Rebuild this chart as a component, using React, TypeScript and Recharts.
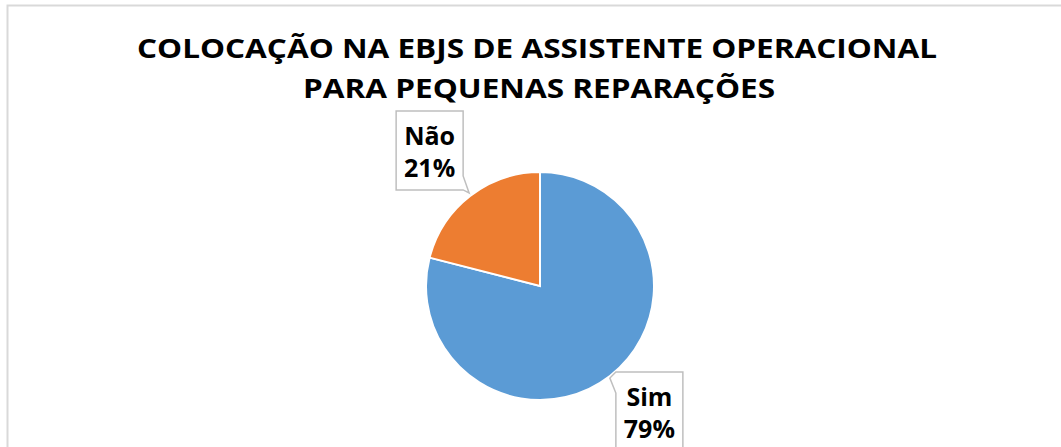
import React from 'react';
import { PieChart, Pie, Cell } from 'recharts';

const categories = ['Sim', 'Não'];
const values = [79, 21];
const colors = ['#5B9BD5', '#ED7D31'];
const titleLines = ['COLOCAÇÃO NA EBJS DE ASSISTENTE OPERACIONAL', 'PARA PEQUENAS REPARAÇÕES'];

const data = categories.map((name, i) => ({ name, value: values[i] }));

const FONT = '"Open Sans", "Noto Sans", sans-serif';
const RAD = Math.PI / 180;

const renderLabel = (props: any) => {
  const { cx, cy, midAngle, outerRadius, percent, name, index } = props;
  const ax = cx + outerRadius * Math.cos(-midAngle * RAD);
  const ay = cy + outerRadius * Math.sin(-midAngle * RAD);
  const w = 67;
  const h = 79;
  const left = ax < cx;
  let path: string;
  let bx: number;
  let by: number;
  if (left) {
    bx = ax - 74;
    by = ay - 85;
    const r = bx + w;
    const b = by + h;
    path = `M${bx},${by} L${r},${by} L${r},${b - 14} L${ax - 1},${ay - 3} L${r},${b} L${bx},${b} Z`;
  } else {
    bx = ax + 6;
    by = ay - 4;
    const r = bx + w;
    const b = by + h;
    path = `M${bx},${by} L${r},${by} L${r},${b} L${bx},${b} L${bx},${by + 21} L${ax},${ay + 2} Z`;
  }
  const tx = bx + w / 2;
  return (
    <g key={`lbl-${index}`}>
      <path d={path} fill="#ffffff" stroke="#bfbfbf" strokeWidth={1.5} />
      <text x={tx} y={by + 34} textAnchor="middle" fontFamily={FONT} fontWeight={700} fontSize={25} fill="#000">
        {name}
      </text>
      <text x={tx} y={by + 66} textAnchor="middle" fontFamily={FONT} fontWeight={700} fontSize={25} fill="#000">
        {`${Math.round(percent * 100)}%`}
      </text>
    </g>
  );
};

export default function App() {
  return (
    <div style={{ position: 'absolute', left: 0, top: 0, width: 1061, height: 447, background: '#fff', overflow: 'hidden' }}>
      <svg width={1061} height={447} style={{ position: 'absolute', left: 0, top: 0 }}>
        <rect x={7.5} y={5.5} width={1200} height={1000} fill="#fff" stroke="#d9d9d9" strokeWidth={2} />
        <text x={537} y={58} textAnchor="middle" fontFamily={FONT} fontWeight={700} fontSize={27.5} fill="#000" textLength={800} lengthAdjust="spacingAndGlyphs">
          {titleLines[0]}
        </text>
        <text x={539} y={98} textAnchor="middle" fontFamily={FONT} fontWeight={700} fontSize={27.5} fill="#000" textLength={472} lengthAdjust="spacingAndGlyphs">
          {titleLines[1]}
        </text>
      </svg>
      <div style={{ position: 'absolute', left: 0, top: 0 }}>
        <PieChart width={1061} height={447} margin={{ top: 0, right: 0, bottom: 0, left: 0 }}>
          <Pie
            data={data}
            dataKey="value"
            nameKey="name"
            cx={540}
            cy={286}
            outerRadius={114}
            startAngle={90}
            endAngle={-270}
            stroke="#ffffff"
            strokeWidth={2}
            label={renderLabel}
            labelLine={false}
            isAnimationActive={false}
          >
            {data.map((d, i) => (
              <Cell key={d.name} fill={colors[i]} />
            ))}
          </Pie>
        </PieChart>
      </div>
    </div>
  );
}
